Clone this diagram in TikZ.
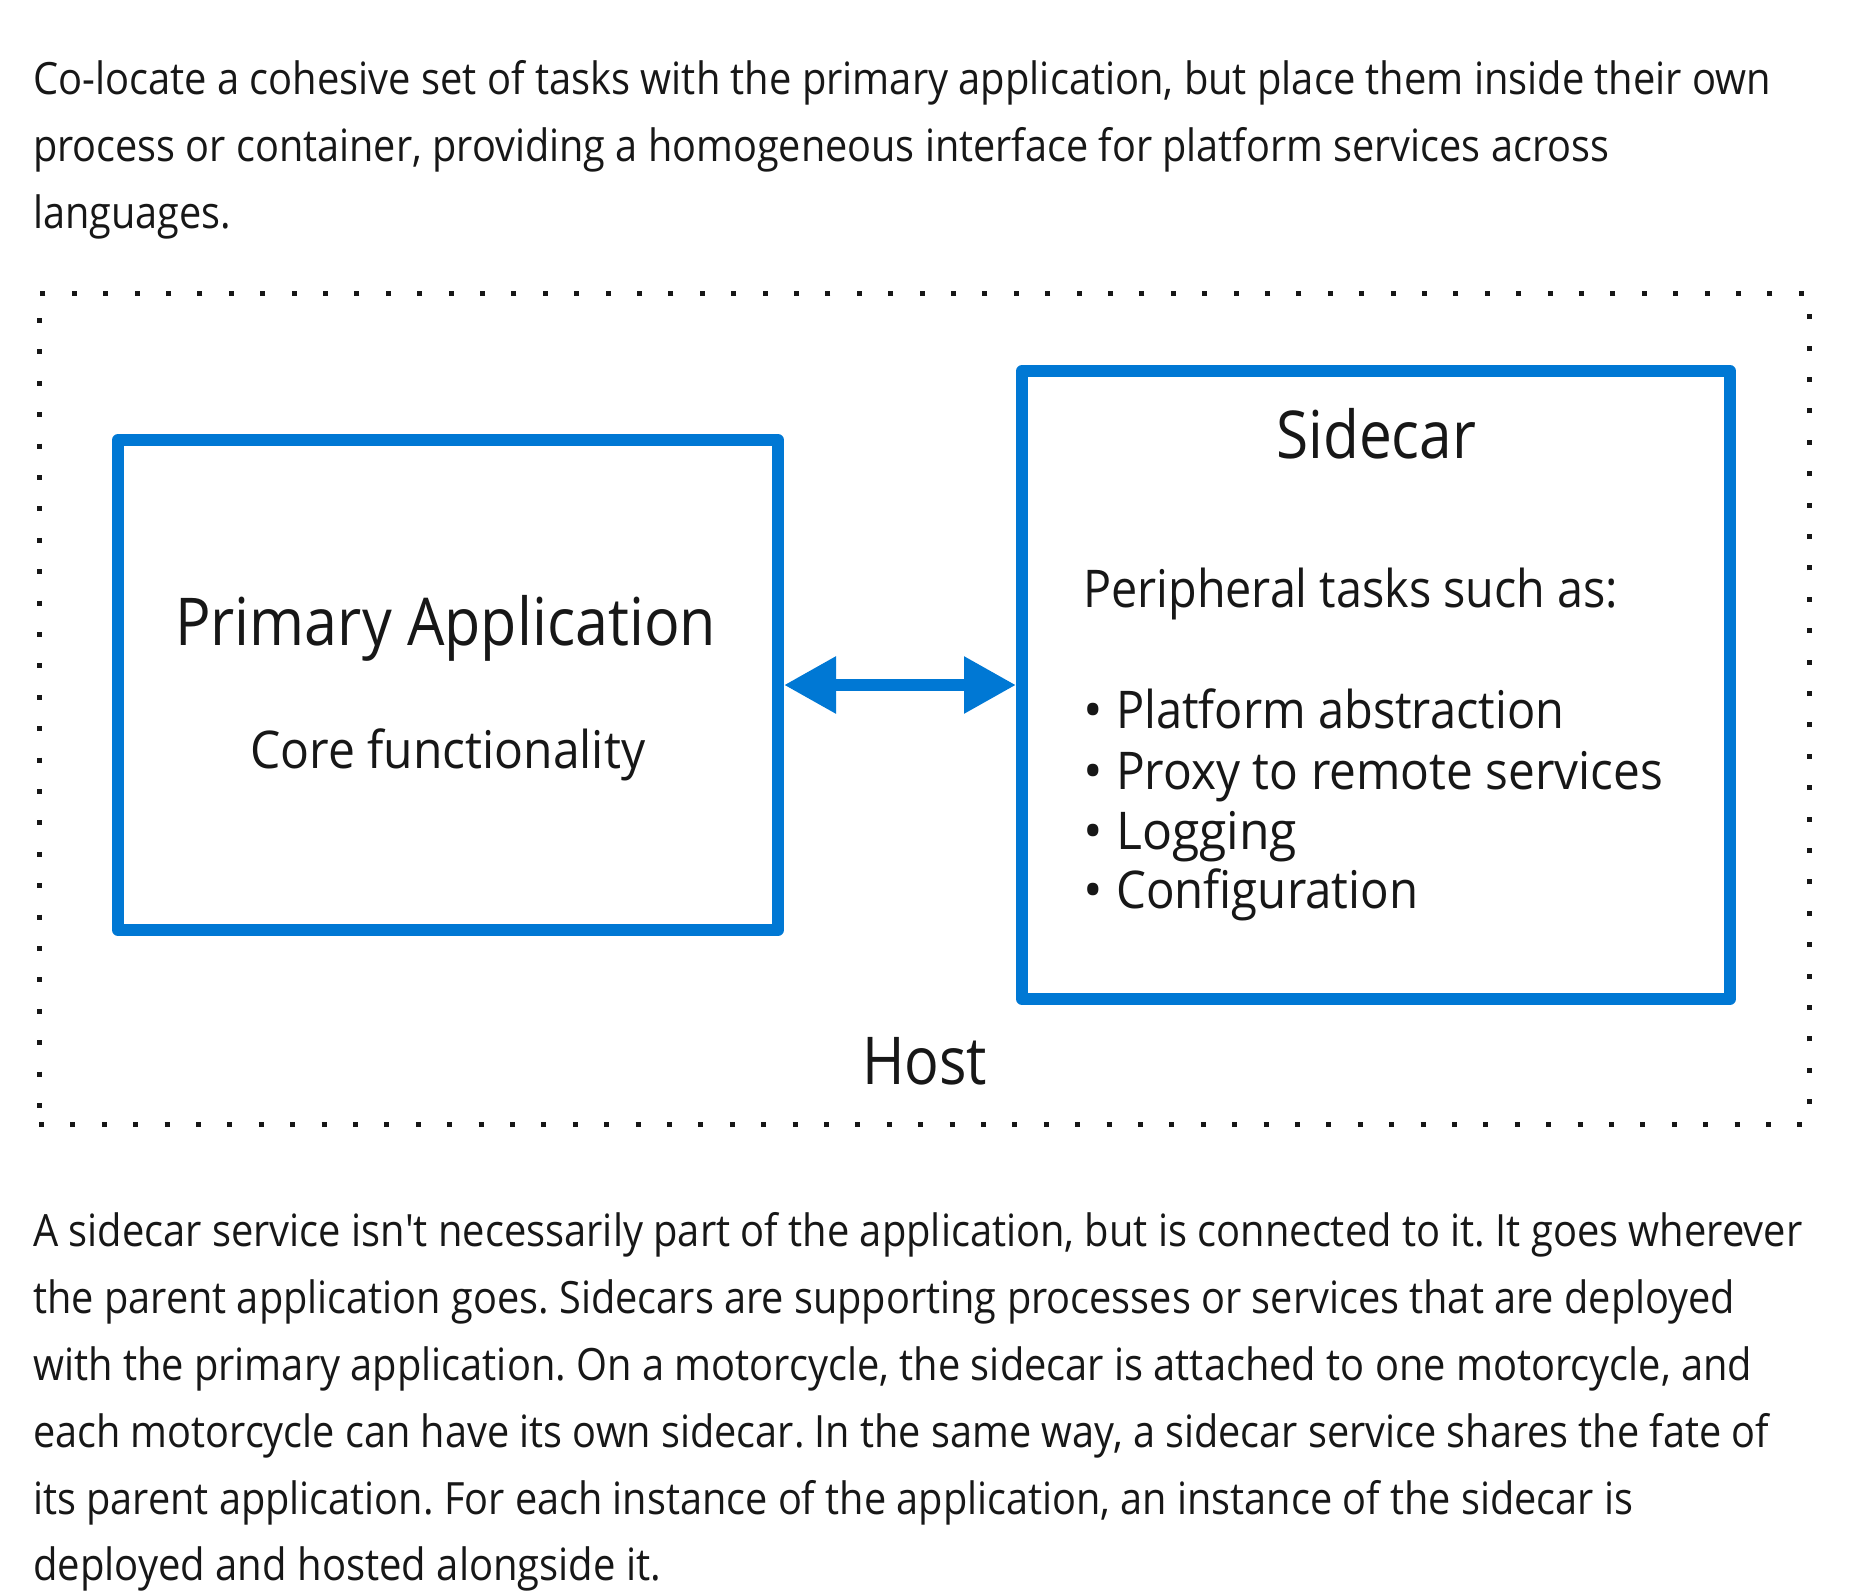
\documentclass[tikz,border=0pt]{standalone}
\usepackage{fontspec}
\setmainfont{Open Sans}
\usetikzlibrary{arrows.meta}
\definecolor{msblue}{HTML}{0078D4}
\definecolor{ink}{HTML}{171717}
\newcommand{\fitw}[2]{\resizebox{#1}{\height}{#2}}
\frenchspacing
\begin{document}
\begin{tikzpicture}[x=1pt,y=-1pt,
  para/.style={anchor=base west, inner sep=0pt, text=ink, font=\fontsize{44.5}{67}\selectfont\frenchspacing},
  headtxt/.style={anchor=base west, inner sep=0pt, text=ink, font=\fontsize{66}{80}\selectfont},
  bodytxt/.style={anchor=base west, inner sep=0pt, text=ink, font=\fontsize{52}{62}\selectfont},
  bluebox/.style={draw=msblue, line width=12pt, line join=round, inner sep=0pt},
  hostborder/.style={draw=ink, line width=5pt, dash pattern=on 5pt off 26.4pt, inner sep=0pt},
  link/.style={draw=msblue, line width=12pt, line cap=butt, {Triangle[length=52pt,width=54pt]}-{Triangle[length=52pt,width=54pt]}}
]
\useasboundingbox[fill=white] (0,0) rectangle (1852,1595);

% intro paragraph
\node[para] (p1) at (33,94) {\fitw{1738pt}{Co-locate a cohesive set of tasks with the primary application, but place them inside their own}};
\node[para] (p2) at (33,161) {\fitw{1576pt}{process or container, providing a homogeneous interface for platform services across}};
\node[para] (p3) at (33,228) {\fitw{198pt}{languages.}};

% host
\node[hostborder, minimum width=1770pt, minimum height=831pt] (host) at (924,708.5) {};
\node[headtxt] (hostlbl) at (862,1084) {\fitw{125pt}{Host}};

% primary application
\node[bluebox, minimum width=660pt, minimum height=490pt] (prim) at (448,685) {};
\node[headtxt] (primt) at (175,645) {\fitw{541pt}{Primary Application}};
\node[bodytxt] (core) at (250,768) {\fitw{395pt}{Core functionality}};

% sidecar
\node[bluebox, minimum width=708pt, minimum height=628pt] (side) at (1376,685) {};
\node[headtxt] (sidet) at (1276,458) {\fitw{200pt}{Sidecar}};
\node[bodytxt] (peri) at (1083,607) {\fitw{535pt}{Peripheral tasks such as:}};
\node[bodytxt] (b1) at (1083,728) {\makebox[33pt][l]{•}\fitw{448pt}{Platform abstraction}};
\node[bodytxt] (b2) at (1083,789) {\makebox[33pt][l]{•}\fitw{547pt}{Proxy to remote services}};
\node[bodytxt] (b3) at (1083,849) {\makebox[33pt][l]{•}\fitw{181pt}{Logging}};
\node[bodytxt] (b4) at (1083,908) {\makebox[33pt][l]{•}\fitw{302pt}{Configuration}};

% connector
\draw[link] (prim.east) -- (side.west);

% closing paragraph
\node[para] (q1) at (33,1246) {\fitw{1769pt}{A sidecar service isn\textquotesingle t necessarily part of the application, but is connected to it. It goes wherever}};
\node[para] (q2) at (33,1313) {\fitw{1702pt}{the parent application goes. Sidecars are supporting processes or services that are deployed}};
\node[para] (q3) at (33,1380) {\fitw{1719pt}{with the primary application. On a motorcycle, the sidecar is attached to one motorcycle, and}};
\node[para] (q4) at (33,1447) {\fitw{1736pt}{each motorcycle can have its own sidecar. In the same way, a sidecar service shares the fate of}};
\node[para] (q5) at (33,1514) {\fitw{1600pt}{its parent application. For each instance of the application, an instance of the sidecar is}};
\node[para] (q6) at (33,1580) {\fitw{628pt}{deployed and hosted alongside it.}};
\end{tikzpicture}
\end{document}
